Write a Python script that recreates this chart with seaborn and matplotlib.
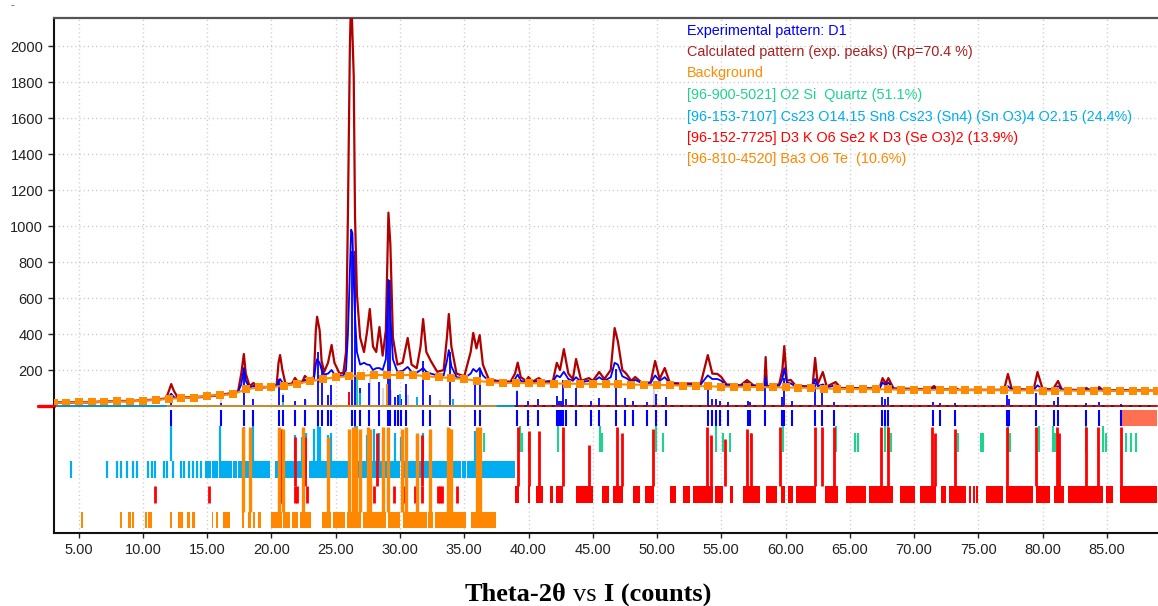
import matplotlib
matplotlib.use("Agg")
import matplotlib.pyplot as plt
import seaborn as sns
import pandas as pd
from matplotlib.offsetbox import TextArea, HPacker, AnchoredOffsetbox

# ---------------- data ----------------
two_theta = [3.1, 4.0, 5.0, 6.0, 7.0, 8.0, 9.0, 10.0, 11.0, 11.8,
             12.0, 12.2, 12.4, 12.7, 13.5, 14.5, 15.5, 16.1, 16.8, 17.4,
             17.65, 17.85, 18.0, 18.3, 18.6, 18.9, 19.7, 20.4, 20.55, 20.67,
             20.85, 21.1, 21.6, 21.83, 22.1, 22.4, 22.6, 22.9, 23.3, 23.45,
             23.55, 23.75, 23.9, 24.1, 24.4, 24.68, 24.9, 25.3, 25.6, 25.8,
             25.95, 26.1, 26.2, 26.3, 26.4, 26.5, 26.65, 26.9, 27.2, 27.45,
             27.65, 27.9, 28.15, 28.4, 28.65, 28.9, 29.1, 29.25, 29.45, 29.8,
             30.2, 30.6, 30.9, 31.3, 31.6, 31.8, 32.05, 32.4, 32.9, 33.4,
             33.65, 33.8, 34.0, 34.4, 35.0, 35.5, 35.7, 35.95, 36.2, 36.45,
             36.9, 37.5, 38.6, 38.95, 39.16, 39.4, 39.8, 40.0, 40.3, 40.8,
             41.2, 41.9, 42.2, 42.45, 42.75, 43.1, 43.45, 43.7, 44.1, 44.7,
             45.0, 45.5, 45.9, 46.4, 46.7, 46.95, 47.3, 47.6, 48.0, 48.3,
             48.8, 49.5, 49.85, 50.2, 50.6, 51.0, 52.0, 53.4, 53.95, 54.3,
             54.7, 55.0, 55.4, 56.5, 57.0, 57.5, 58.35, 58.45, 58.55, 59.5,
             59.75, 59.9, 60.1, 60.4, 60.8, 62.1, 62.3, 62.5, 62.9, 63.2,
             63.9, 64.3, 67.3, 67.55, 67.8, 68.0, 68.4, 71.2, 71.55, 71.9,
             73.0, 73.2, 73.5, 77.0, 77.3, 77.6, 79.3, 79.6, 80.0, 80.8,
             81.2, 81.5, 83.2, 83.4, 83.7, 84.2, 84.4, 84.7, 86.1, 88.9]

calc_counts = [20, 21, 22, 22, 26, 28, 28, 32, 36, 42,
               80, 122, 85, 48, 48, 52, 58, 64, 70, 80,
               180, 289, 180, 110, 128, 105, 106, 115, 240, 283,
               200, 120, 125, 156, 130, 135, 167, 145, 160, 420,
               496, 420, 250, 190, 240, 339, 240, 180, 185, 300,
               1072, 1990, 2300, 2070, 1833, 1056, 620, 380, 300, 420,
               539, 330, 300, 439, 280, 420, 1074, 900, 380, 230,
               240, 378, 230, 210, 330, 483, 300, 250, 190, 200,
               380, 511, 330, 180, 165, 300, 406, 320, 394, 230,
               150, 140, 135, 180, 241, 160, 140, 161, 135, 155,
               135, 140, 240, 200, 316, 180, 150, 261, 140, 155,
               140, 189, 150, 200, 433, 360, 200, 180, 140, 161,
               130, 130, 250, 150, 211, 128, 125, 125, 283, 180,
               178, 161, 120, 115, 144, 115, 110, 272, 110, 120,
               200, 333, 140, 145, 112, 108, 267, 120, 189, 108,
               133, 100, 98, 155, 125, 155, 98, 93, 111, 92,
               92, 100, 90, 90, 178, 95, 90, 189, 95, 92,
               139, 92, 88, 100, 88, 88, 106, 86, 88, 85]

exp_counts = [18, 17, 20, 18, 24, 27, 25, 30, 34, 40,
              50, 68, 50, 42, 45, 48, 55, 62, 66, 78,
              120, 211, 140, 100, 112, 100, 104, 110, 140, 150,
              130, 115, 120, 130, 125, 130, 145, 140, 150, 230,
              260, 240, 200, 175, 180, 200, 175, 168, 170, 200,
              400, 750, 980, 960, 700, 500, 300, 230, 240, 230,
              228, 200, 210, 211, 200, 260, 700, 500, 260, 190,
              195, 217, 190, 185, 200, 211, 190, 180, 170, 170,
              250, 311, 220, 160, 155, 180, 206, 190, 211, 170,
              140, 135, 130, 150, 175, 140, 132, 140, 130, 140,
              130, 135, 170, 160, 190, 150, 140, 160, 132, 140,
              132, 160, 140, 160, 240, 230, 165, 155, 135, 145,
              128, 128, 170, 140, 160, 125, 118, 120, 170, 150,
              150, 140, 115, 112, 130, 110, 108, 160, 108, 112,
              150, 210, 130, 125, 108, 104, 150, 110, 120, 103,
              115, 97, 95, 130, 115, 130, 94, 91, 100, 90,
              90, 95, 88, 88, 110, 92, 88, 115, 92, 90,
              110, 90, 86, 92, 86, 86, 95, 85, 86, 83]

bg_theta = [3.1, 4, 5, 6, 7, 8, 9, 10, 11, 12, 13,
            14, 15, 16, 17, 18, 19, 20, 21, 22, 23,
            24, 25, 26, 27, 28, 29, 30, 31, 32, 33,
            34, 35, 36, 37, 38, 39, 40, 41, 42, 43,
            44, 45, 46, 47, 48, 49, 50, 51, 52, 53,
            54, 55, 56, 57, 58, 59, 60, 61, 62, 63,
            64, 65, 66, 67, 68, 69, 70, 71, 72, 73,
            74, 75, 76, 77, 78, 79, 80, 81, 82, 83,
            84, 85, 86, 87, 88, 88.9]
bg_counts = [17, 19, 20, 20, 25, 26, 25, 30, 34, 40, 44,
             47, 55, 62, 66, 92, 104, 106, 112, 125, 137,
             150, 160, 165, 168, 172, 172, 172, 172, 166, 160,
             155, 150, 140, 132, 128, 128, 127, 126, 125, 124,
             123, 122, 122, 120, 119, 118, 117, 116, 113, 111,
             109, 108, 107, 106, 105, 104, 103, 102, 100, 97,
             96, 95, 94, 93, 92, 91, 91, 90, 90, 89,
             89, 88, 88, 88, 87, 87, 86, 86, 86, 85,
             85, 85, 84, 84, 84, 83]

# experimental peak positions (blue sticks) and their heights
peak_pos = [12.18, 16.1, 17.9, 18.6, 20.6, 20.86, 21.8, 22.6, 23.63, 23.9,
            24.4, 24.67, 26.3, 26.5, 26.9, 27.6, 28.4, 29.07, 29.2, 29.6,
            29.85, 30.1, 30.45, 31.8, 32.3, 33.9, 35.8, 36.2, 39.1, 39.95,
            40.7, 42.2, 42.35, 42.5, 42.7, 42.9, 43.7, 44.9, 45.5, 46.8,
            47.5, 48.1, 49.2, 49.95, 50.7, 53.95, 54.3, 54.6, 54.9, 55.5,
            57.05, 57.25, 58.4, 59.7, 59.9, 60.5, 62.3, 62.8, 63.8, 67.5,
            67.75, 68.0, 71.5, 72.0, 73.2, 77.2, 77.35, 79.5, 80.9, 81.2,
            83.4, 84.4, 86.1]
peak_height = [45, 15, 200, 40, 150, 60, 30, 40, 300, 230,
               60, 117, 860, 860, 100, 130, 133, 700, 700, 50,
               60, 40, 122, 250, 60, 300, 140, 200, 83, 30,
               40, 56, 30, 30, 144, 40, 100, 30, 44, 206,
               44, 28, 20, 67, 50, 128, 39, 39, 30, 20,
               30, 20, 128, 50, 156, 30, 128, 78, 20, 50,
               40, 50, 20, 15, 15, 60, 40, 70, 30, 50,
               15, 20, 10]

# reference-phase sticks near the baseline of the pattern
ref_gray_pos = [16.1, 20.9, 22.7, 27.65, 28.7, 29.3, 30.6, 32.3, 33.1, 39.1, 49.8]
ref_gray_h = [72, 74, 33, 161, 100, 89, 60, 50, 33, 89, 106]
ref_quartz_pos = [20.86, 26.64]
ref_quartz_h = [25, 170]
ref_cs_pos = [26.9, 30.0, 31.3, 34.1]
ref_cs_h = [70, 67, 50, 40]
ref_red_pos = [26.0]
ref_red_h = [80]
ref_orange_pos = [29.0]
ref_orange_h = [120]

# phase marker rows
quartz_ticks = [20.86, 26.64, 36.55, 39.3, 39.5, 40.06, 42.3, 42.65, 45.55, 45.75,
                49.95, 50.5, 54.6, 55.1, 55.65, 57.3, 59.8, 63.95, 65.4, 65.6,
                67.7, 67.95, 68.2, 73.4, 75.2, 75.4, 77.3, 77.45, 79.7, 80.8,
                81.0, 83.4, 84.7, 84.9, 86.5, 86.9, 87.3]
quartz_links = [26.64, 39.3, 42.3, 45.55, 49.95, 54.6, 59.8, 63.95, 67.7, 67.95,
                77.3, 79.7, 80.8, 83.4, 84.7]

cs_ticks = [4.4, 7.2, 7.95, 8.27, 8.73, 9.2, 9.5, 10.4, 10.68, 10.93,
            11.6, 11.85, 12.35, 13.0, 13.2, 13.6, 13.9, 14.2, 14.5]
cs_bands = [(14.85, 15.3), (15.4, 15.85), (15.95, 16.9), (17.0, 17.3), (17.4, 18.4),
            (18.5, 19.9), (20.25, 20.7), (20.85, 22.8), (22.95, 26.2), (26.3, 30.0),
            (30.1, 34.75), (34.85, 35.1), (35.25, 38.93)]
cs_links = [12.18, 16.0, 17.85, 18.6, 20.6, 21.8, 22.4, 22.7, 23.3, 23.6,
            23.8, 24.4, 24.67, 26.5, 26.9, 27.4, 28.0, 28.4, 28.7, 29.1,
            29.6, 30.1, 30.45, 31.3, 31.8, 32.3, 33.9, 35.8, 36.2]
cs_link_tops = [107, 107, 106, 107, 100, 98, 96, 100, 104, 107,
                106, 98, 100, 107, 100, 98, 104, 100, 96, 104,
                100, 96, 102, 98, 100, 96, 104, 102, 104]

red_ticks = [10.94, 15.16, 20.73, 20.85, 21.8, 21.95, 22.8, 28.0, 28.7, 29.5,
             30.3, 31.15, 31.7, 32.3, 32.95, 33.1, 33.3, 33.7, 34.4]
red_bands = [(38.93, 39.26), (39.96, 40.1), (40.6, 41.13), (41.7, 41.9), (42.17, 42.68),
             (43.72, 45.02), (45.75, 46.3), (46.57, 47.35), (48.13, 48.65), (49.04, 49.8),
             (50.98, 51.5), (52.0, 52.55), (52.8, 54.35), (54.5, 55.1), (55.65, 55.9),
             (56.7, 57.98), (58.5, 59.3), (59.67, 59.98), (60.18, 60.57), (60.83, 62.39),
             (63.03, 64.07), (64.72, 66.27), (66.48, 68.34), (68.87, 70.04), (70.43, 71.72),
             (72.1, 72.5), (72.75, 74.05), (74.3, 74.45), (74.6, 74.75), (74.85, 74.95),
             (75.6, 76.9), (77.16, 79.23), (79.5, 80.55), (80.9, 81.68), (81.95, 84.67),
             (84.93, 85.45), (85.99, 88.9)]
red_links = [20.73, 21.8, 22.6, 28.2, 28.7, 31.7, 32.3, 39.2, 40.0, 40.8,
             42.7, 44.7, 46.9, 47.3, 49.7, 53.9, 54.2, 55.3, 57.0, 57.3,
             59.6, 62.3, 62.8, 63.8, 67.4, 68.0, 71.4, 71.6, 73.2, 77.2,
             79.5, 81.1, 81.3, 83.4, 84.3, 86.1]
red_link_tops = [104, 96, 96, 100, 104, 98, 96, 106, 102, 102,
                 106, 88, 106, 100, 104, 106, 98, 94, 104, 100,
                 106, 106, 106, 106, 106, 106, 106, 100, 104, 106,
                 106, 106, 100, 106, 106, 106]

orange_bands = [(5.15, 5.36), (8.21, 8.37), (8.86, 9.04), (9.12, 9.3), (10.16, 10.28),
                (10.41, 10.68), (12.1, 12.23), (12.75, 13.09), (13.45, 13.65), (13.78, 14.05),
                (15.34, 15.47), (15.68, 15.86), (16.25, 16.77), (17.67, 17.88), (18.19, 18.37),
                (18.6, 18.72), (18.97, 19.15), (20.0, 20.8), (20.86, 21.43), (21.56, 22.07),
                (22.2, 23.1), (23.9, 24.67), (24.75, 25.7), (25.84, 27.0), (27.13, 28.95),
                (29.03, 29.98), (30.2, 32.07), (32.2, 32.57), (32.7, 35.17), (35.55, 37.5)]
orange_links = [17.75, 18.3, 20.6, 20.9, 22.45, 24.4, 26.0, 26.35, 26.55, 26.9,
                27.5, 27.65, 28.7, 29.1, 30.15, 30.45, 31.3, 32.3, 33.75, 33.95,
                36.0, 36.25]
orange_link_tops = [106, 106, 106, 104, 106, 96, 104, 106, 106, 104,
                    106, 104, 106, 106, 104, 106, 100, 104, 106, 104,
                    106, 106]

unmatched_band = (86.1, 88.9)

legend_lines = ["Experimental pattern: D1",
                "Calculated pattern (exp. peaks) (Rp=70.4 %)",
                "Background",
                "[96-900-5021] O2 Si  Quartz (51.1%)",
                "[96-153-7107] Cs23 O14.15 Sn8 Cs23 (Sn4) (Sn O3)4 O2.15 (24.4%)",
                "[96-152-7725] D3 K O6 Se2 K D3 (Se O3)2 (13.9%)",
                "[96-810-4520] Ba3 O6 Te  (10.6%)"]
x_ticks = [5, 10, 15, 20, 25, 30, 35, 40, 45, 50, 55, 60, 65, 70, 75, 80, 85]
y_ticks = [200, 400, 600, 800, 1000, 1200, 1400, 1600, 1800, 2000]

# ---------------- styling ----------------
C_EXP = "#0000ff"
C_CALC = "#b00000"
C_BG = "#ff8c00"
C_QTZ = "#1fd38f"
C_CS = "#00adf0"
C_RED = "#ff0000"
C_ORG = "#ff8800"
C_UNM = "#ff7052"
legend_colors = [C_EXP, "#a82020", C_BG, C_QTZ, C_CS, C_RED, C_ORG]

sns.set_style("white")
plt.rcParams["font.family"] = ["Liberation Sans", "DejaVu Sans"]

W, H = 1158, 606
fig = plt.figure(figsize=(W / 100, H / 100), dpi=100)
fig.patch.set_facecolor("white")

L = 54 / W
AW = (1157 - 54) / W
ax1 = fig.add_axes([L, 1 - 408 / H, AW, (408 - 18) / H])
ax2 = fig.add_axes([L, 1 - 533 / H, AW, (533 - 408) / H], sharex=ax1)

XMIN, XMAX = 3.08, 88.9
ax1.set_xlim(XMIN, XMAX)
ax1.set_ylim(-11.1, 2155.6)
ax2.set_ylim(0, 125)

grid_kw = dict(color="#c8c8c8", linewidth=1.0, linestyle=(0, (0.8, 2.2)))
for v in x_ticks:
    ax1.axvline(v, zorder=0, **grid_kw)
    ax2.axvline(v, zorder=0, **grid_kw)
for v in y_ticks:
    ax1.axhline(v, zorder=0, **grid_kw)

# ---- upper panel ----
ax1.vlines(ref_gray_pos, 0, ref_gray_h, colors="#d6d6d6", lw=1.6, zorder=1)
ax1.vlines(peak_pos, 0, peak_height, colors=C_EXP, lw=1.3, zorder=2)
ax1.vlines(ref_quartz_pos, 0, ref_quartz_h, colors=C_QTZ, lw=1.4, zorder=2)
ax1.vlines(ref_cs_pos, 0, ref_cs_h, colors=C_CS, lw=1.4, zorder=2)
ax1.vlines(ref_red_pos, 0, ref_red_h, colors=C_RED, lw=1.4, zorder=2)
ax1.vlines(ref_orange_pos, 0, ref_orange_h, colors=C_ORG, lw=1.4, zorder=2)

df = pd.DataFrame({"two_theta": two_theta, "calc": calc_counts, "exp": exp_counts})
sns.lineplot(data=df, x="two_theta", y="calc", ax=ax1, color=C_CALC, linewidth=1.6,
             sort=False, estimator=None, zorder=3)
sns.lineplot(data=df, x="two_theta", y="exp", ax=ax1, color=C_EXP, linewidth=1.3,
             sort=False, estimator=None, zorder=4)
sns.lineplot(x=bg_theta, y=bg_counts, ax=ax1, color=C_BG, linewidth=1.5, marker="s",
             markersize=5.2, markeredgewidth=0, sort=False, estimator=None, zorder=5)

# baseline
ax1.plot([XMIN, XMAX], [0, 0], color="#222222", lw=1.2, zorder=6, clip_on=False)
ax1.plot([XMIN, 38.93], [0, 0], color=C_CS, lw=1.1, zorder=6, clip_on=False)
ax1.plot([11.9, 37.5], [0, 0], color=C_ORG, lw=1.1, zorder=6, clip_on=False)
ax1.plot([38.93, XMAX], [0, 0], color=C_RED, lw=1.1, zorder=6, clip_on=False)
ax1.plot([38.93, XMAX], [0, 0], color="#222222", lw=1.1, zorder=7,
         linestyle=(0, (2, 4)), clip_on=False)
ax1.plot([1.84, XMIN], [0, 0], color=C_RED, lw=2.4, zorder=7, clip_on=False)

ax1.set_xlabel("")
ax1.set_ylabel("")
ax1.set_yticks(y_ticks)
ax1.set_yticklabels([str(v) for v in y_ticks])
ax1.tick_params(axis="y", left=True, direction="out", length=4.3, width=1.0,
                pad=3.5, labelsize=10.5, labelcolor="#222222", color="#222222")
ax1.tick_params(axis="x", bottom=False, labelbottom=False)
for s in ["right", "bottom"]:
    ax1.spines[s].set_visible(False)
ax1.spines["top"].set_color("#555555")
ax1.spines["top"].set_linewidth(1.6)
ax1.spines["left"].set_color("#111111")
ax1.spines["left"].set_linewidth(1.5)

# ---- lower panel (phase markers) ----
def bars(ax, segs, y0, h, color, z=2):
    ax.broken_barh([(a, b - a) for a, b in segs], (y0, h), facecolors=color,
                   edgecolor="none", zorder=z)

ax2.vlines(peak_pos, 107, 123, colors=C_EXP, lw=1.5, zorder=3)
bars(ax2, [unmatched_band], 107, 16, C_UNM)

ax2.vlines(quartz_ticks, 81, 100, colors=C_QTZ, lw=1.5, zorder=3)
ax2.vlines(quartz_links, 100, 107, colors=C_QTZ, lw=1.5, zorder=3)

ax2.vlines(cs_ticks, 55, 72, colors=C_CS, lw=1.6, zorder=3)
bars(ax2, cs_bands, 55, 17, C_CS)
ax2.vlines(cs_links, 72, cs_link_tops, colors=C_CS, lw=1.6, zorder=2)

ax2.vlines(red_ticks, 30, 47, colors=C_RED, lw=2.0, zorder=4)
bars(ax2, red_bands, 30, 17, C_RED, z=4)
ax2.vlines(red_links, 47, red_link_tops, colors=C_RED, lw=2.0, zorder=4)

bars(ax2, orange_bands, 5, 16, C_ORG, z=5)
ax2.vlines(orange_links, 21, orange_link_tops, colors=C_ORG, lw=2.4, zorder=5)

ax2.set_xticks(x_ticks)
ax2.set_xticklabels([f"{v:.2f}" for v in x_ticks])
ax2.set_yticks([])
ax2.tick_params(axis="x", bottom=True, direction="out", length=3.5, width=1.0,
                pad=4, labelsize=10.5, labelcolor="#222222", color="#222222")
ax2.set_xlabel("")
ax2.set_ylabel("")
for s in ["right", "top"]:
    ax2.spines[s].set_visible(False)
for s in ["left", "bottom"]:
    ax2.spines[s].set_color("#111111")
    ax2.spines[s].set_linewidth(1.5)
ax2.set_facecolor("none")
ax1.set_facecolor("none")

# ---- legend-like text block ----
line_y = [30.5, 52, 73.5, 95, 116.5, 138, 159.5]
for txt, col, yy in zip(legend_lines, legend_colors, line_y):
    fig.text(687 / W, 1 - yy / H, txt, color=col, fontsize=10.4, va="center",
             ha="left", family=["Liberation Sans", "DejaVu Sans"])

fig.text(11 / W, 1 - 6 / H, "--", color="#3030c0", fontsize=5, va="center")

# ---- axis title below ----
tp_b = dict(family=["Liberation Serif", "DejaVu Serif"], weight="bold", size=19, color="black")
tp_n = dict(family=["Liberation Serif", "DejaVu Serif"], weight="normal", size=19, color="black")
box = HPacker(children=[TextArea("Theta-2θ", textprops=tp_b),
                        TextArea("vs", textprops=tp_n),
                        TextArea("I (counts)", textprops=tp_b)],
              align="baseline", pad=0, sep=4.8)
anch = AnchoredOffsetbox(loc="center", child=box, frameon=False, pad=0, borderpad=0,
                         bbox_to_anchor=(588 / W, 1 - 595 / H),
                         bbox_transform=fig.transFigure)
fig.add_artist(anch)

fig.savefig("out.png", dpi=100, facecolor="white")
